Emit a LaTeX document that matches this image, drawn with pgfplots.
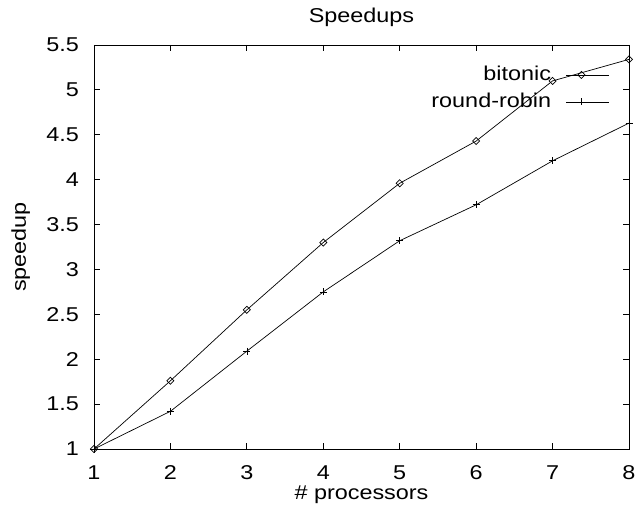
\documentclass[border=0pt]{standalone}
\usepackage{pgfplots}
\pgfplotsset{compat=1.18}
\usepackage{fontspec}
\setmainfont[FakeStretch=1.17]{Liberation Sans}
\begin{document}
\fontsize{20bp}{23bp}\selectfont
\begin{tikzpicture}
\begin{axis}[name=ax, scale only axis, width=535bp, height=404bp,
  xmin=1, xmax=8, ymin=1, ymax=5.5,
  xtick={1,2,3,4,5,6,7,8}, ytick={1,1.5,2,2.5,3,3.5,4,4.5,5,5.5},
  axis line style={line width=0.9bp}, tick style={line width=0.9bp, black},
  major tick length=6bp,
  /pgf/number format/assume math mode=true,
  yticklabel style={anchor=east, inner sep=0pt, xshift=-15bp},
  xticklabel style={anchor=base, inner sep=0pt, yshift=-30bp},
  title=Speedups, title style={at={(0.5,1.042)}, anchor=base, inner sep=0pt},
  xlabel={\# processors}, xlabel style={at={(0.5,-0.1250)}, anchor=base, inner sep=0pt},
  ylabel=speedup, ylabel style={at={(-0.1271,0.5)}, anchor=base, inner sep=0pt},
  legend plot pos=right, legend cell align=right,
  legend style={at={(0.9645,0.948)}, anchor=north east, draw=none, fill=none, inner sep=0pt,
    row sep=9.5bp, column sep=15bp, nodes={inner sep=0pt}},
  legend image code/.code={\draw[mark repeat=2,mark phase=2] plot coordinates {(0bp,0bp) (15bp,0bp) (43bp,0bp)};},
]
\addplot[black, line width=0.7bp, mark=square, mark size=2.5bp, mark options={rotate=45, line width=0.7bp}]
  coordinates {(1,1) (2,1.76) (3,2.55) (4,3.30) (5,3.96) (6,4.43) (7,5.10) (8,5.34)};
\addlegendentry{bitonic}
\addplot[black, line width=0.7bp, mark=+, mark size=3.5bp, mark options={line width=0.7bp}]
  coordinates {(1,1) (2,1.42) (3,2.09) (4,2.75) (5,3.32) (6,3.72) (7,4.21) (8,4.63)};
\addlegendentry{round-robin}
\end{axis}
\path ([xshift=-94bp,yshift=-57bp]ax.south west) rectangle ([xshift=8bp,yshift=45bp]ax.north east);
\end{tikzpicture}
\end{document}
